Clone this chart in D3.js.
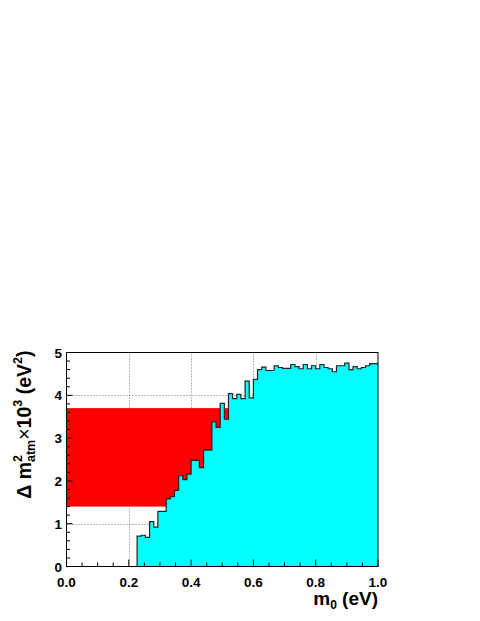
<!DOCTYPE html>
<html>
<head>
<meta charset="utf-8">
<script src="https://cdn.jsdelivr.net/npm/d3@7"></script>
<style>
html,body{margin:0;padding:0;background:#fff;}
svg{display:block;font-family:"Liberation Sans",Arial,Helvetica,sans-serif;font-weight:bold;}
</style>
</head>
<body>
<svg id="chart" width="480" height="621"></svg>
<script>
// ---- data ----
const nBins = 75;               // histogram bins over m0 in [0,1]
const binValues = [
  0,0,0,0,0,0,0,0,0,0,0,0,0,0,0,0,0,
  0.71,0.73,0.68,1.05,0.92,1.29,1.29,1.58,1.63,1.78,
  2.12,2.03,2.16,2.48,2.48,2.31,2.72,2.72,3.38,3.25,
  3.81,3.44,4.04,3.92,4.02,3.92,4.33,3.94,4.37,4.60,
  4.66,4.58,4.58,4.69,4.65,4.63,4.63,4.72,4.67,4.62,
  4.72,4.62,4.69,4.62,4.72,4.65,4.62,4.55,4.69,4.69,
  4.75,4.60,4.67,4.62,4.65,4.69,4.74,4.74
];
const bandX = [0, 0.52];        // red band m0 range
const bandY = [1.4, 3.7];       // red band Δm² range
const xTicks = [0, 0.2, 0.4, 0.6, 0.8, 1.0];
const yTicks = [0, 1, 2, 3, 4, 5];
const xGrid = [0.2, 0.4, 0.6, 0.8];
const yGrid = [1, 2, 3, 4];

// ---- layout ----
const svg = d3.select("#chart");
const X0 = 66.5, X1 = 378, Y0 = 566.5, Y1 = 352.5;
const x = d3.scaleLinear().domain([0, 1]).range([X0, X1]);
const y = d3.scaleLinear().domain([0, 5]).range([Y0, Y1]);

// grid
const grid = svg.append("g").attr("stroke", "#777").attr("stroke-width", 1).attr("stroke-dasharray", "1,2");
grid.selectAll("line.v").data(xGrid).enter().append("line")
  .attr("x1", d => Math.round(x(d)) + 0.5).attr("x2", d => Math.round(x(d)) + 0.5)
  .attr("y1", Y0).attr("y2", Y1);
grid.selectAll("line.h").data(yGrid).enter().append("line")
  .attr("y1", d => Math.round(y(d)) + 0.5).attr("y2", d => Math.round(y(d)) + 0.5)
  .attr("x1", X0).attr("x2", X1);

// red band
svg.append("rect")
  .attr("x", x(bandX[0])).attr("width", x(bandX[1]) - x(bandX[0]))
  .attr("y", y(bandY[1])).attr("height", y(bandY[0]) - y(bandY[1]))
  .attr("fill", "#ff0000");

// histogram
const bins = binValues.map((v, i) => ({lo: i / nBins, hi: (i + 1) / nBins, v}));
const first = bins.findIndex(b => b.v > 0);
const used = bins.slice(first);
let pts = [[x(used[0].lo), y(0)]];
used.forEach(b => { pts.push([x(b.lo), y(b.v)]); pts.push([x(b.hi), y(b.v)]); });
const last = used[used.length - 1];
svg.append("path")
  .attr("d", d3.line()(pts.concat([[x(last.hi), y(0)]])) + "Z")
  .attr("fill", "#00ffff").attr("stroke", "none");
svg.append("path")
  .attr("d", d3.line()(pts))
  .attr("fill", "none").attr("stroke", "#222").attr("stroke-width", 1.2);

// frame
svg.append("rect").attr("x", X0).attr("y", Y1).attr("width", X1 - X0).attr("height", Y0 - Y1)
  .attr("fill", "none").attr("stroke", "#000").attr("stroke-width", 1);

// x axis ticks (inward)
const xMinor = d3.range(0, 1.0001, 0.05);
svg.append("g").selectAll("line").data(xMinor).enter().append("line")
  .attr("x1", d => x(d)).attr("x2", d => x(d))
  .attr("y1", Y0).attr("y2", d => Y0 - (xTicks.some(t => Math.abs(t - d) < 1e-6) ? 7 : 4))
  .attr("stroke", "#000").attr("stroke-width", 1);
svg.append("g").selectAll("text").data(xTicks).enter().append("text")
  .attr("x", d => x(d)).attr("y", 587)
  .attr("text-anchor", "middle").attr("font-size", 13.5)
  .text(d => d.toFixed(1));

// y axis ticks (inward)
const yMinor = d3.range(0, 5.0001, 0.2);
svg.append("g").selectAll("line").data(yMinor).enter().append("line")
  .attr("y1", d => y(d)).attr("y2", d => y(d))
  .attr("x1", X0).attr("x2", d => X0 + (yTicks.some(t => Math.abs(t - d) < 1e-6) ? 6 : 3.5))
  .attr("stroke", "#000").attr("stroke-width", 1);
svg.append("g").selectAll("text").data(yTicks).enter().append("text")
  .attr("x", 62).attr("y", d => y(d) + 5)
  .attr("text-anchor", "end").attr("font-size", 13.5)
  .text(d => d);

// x title
const xt = svg.append("text").attr("x", X1).attr("y", 605).attr("text-anchor", "end").attr("font-size", 19);
xt.append("tspan").text("m");
xt.append("tspan").attr("font-size", 12).attr("dy", 4).text("0");
xt.append("tspan").attr("dy", -4).text(" (eV)");

// y title (rotated)
const yt = svg.append("text").attr("transform", `translate(31,${Y1 - 2}) rotate(-90)`)
  .attr("text-anchor", "end").attr("font-size", 19.5);
yt.append("tspan").text("Δ m");
yt.append("tspan").attr("font-size", 12.5).attr("dy", -9).text("2");
yt.append("tspan").attr("font-size", 12.5).attr("dx", -7).attr("dy", 13).text("atm");
yt.append("tspan").attr("dy", -4).attr("font-weight", "normal").text("×");
yt.append("tspan").text("10");
yt.append("tspan").attr("font-size", 12.5).attr("dy", -9).text("3");
yt.append("tspan").attr("dy", 9).text(" (eV");
yt.append("tspan").attr("font-size", 12.5).attr("dy", -9).text("2");
yt.append("tspan").attr("dy", 9).text(")");
</script>
</body>
</html>
